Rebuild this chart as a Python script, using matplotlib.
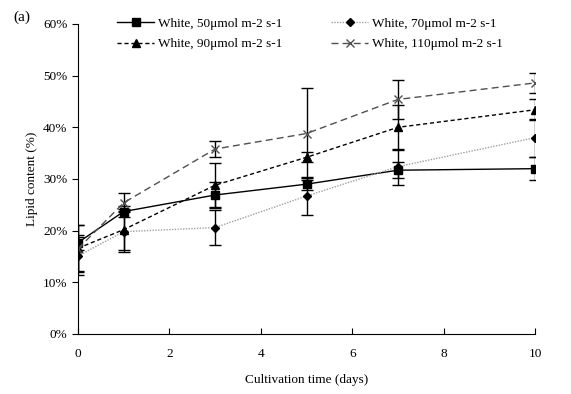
import matplotlib.pyplot as plt
from matplotlib.lines import Line2D
from matplotlib.ticker import FuncFormatter

plt.rcParams['font.family'] = ['Liberation Serif', 'DejaVu Serif']
plt.rcParams['font.size'] = 9.5

days = [0, 1, 3, 5, 7, 10]

lipid_50 = [17.7, 23.7, 26.9, 29.0, 31.7, 32.0]
err_50 = [1.5, 1.0, 2.6, 1.2, 1.6, 2.2]
lipid_70 = [15.1, 19.8, 20.6, 26.7, 32.4, 38.0]
err_70 = [3.7, 4.0, 3.4, 3.6, 3.5, 3.7]
lipid_90 = [16.6, 20.2, 28.8, 34.2, 40.0, 43.4]
err_90 = [4.4, 4.0, 4.2, 1.0, 4.4, 2.0]
lipid_110 = [16.5, 25.4, 35.8, 38.8, 45.4, 48.6]
err_110 = [4.5, 1.8, 1.6, 8.9, 3.8, 2.0]

labels = ['White, 50\u03bcmol m-2 s-1', 'White, 70\u03bcmol m-2 s-1',
          'White, 90\u03bcmol m-2 s-1', 'White, 110\u03bcmol m-2 s-1']

fig = plt.figure(figsize=(5.71, 3.94), dpi=100)
ax = fig.add_axes([0.1366, 0.1523, 0.8004, 0.7868])

styles = [
    dict(color='black', ls='-', marker='s', ms=6, mfc='black', mec='black'),
    dict(color='#a0a0a0', ls=(0, (1, 1)), marker='D', ms=4, mfc='black', mec='black'),
    dict(color='black', ls=(0, (3, 2)), marker='^', ms=6, mfc='black', mec='black'),
    dict(color='#505050', ls=(0, (5, 3)), marker='x', ms=6, mfc='#505050', mec='#505050'),
]
series = [(lipid_50, err_50), (lipid_70, err_70), (lipid_90, err_90), (lipid_110, err_110)]

handles = []
for (vals, errs), st, lab in zip(series, styles, labels):
    ax.errorbar(days, vals, yerr=errs, lw=1, ecolor='black', elinewidth=1,
                capsize=4, capthick=1, **st)
    handles.append(Line2D([], [], lw=1, label=lab, **st))

ax.set_xlim(0, 10)
ax.set_ylim(0, 60)
ax.set_xticks(range(0, 11, 2))
ax.set_yticks(range(0, 61, 10))
ax.yaxis.set_major_formatter(FuncFormatter(lambda v, p: f'{int(v)}%'))
ax.spines['top'].set_visible(False)
ax.spines['right'].set_visible(False)
ax.tick_params(axis='x', direction='in', length=4, pad=10)
ax.tick_params(axis='y', direction='out', length=4)

ax.set_xlabel('Cultivation time (days)', labelpad=10)
ax.set_ylabel('Lipid content (%)', labelpad=4)
fig.text(0.024, 0.955, '(a)', fontsize=11, va='center')

# legend fills by column, so order 50, 90, 70, 110 gives rows (50, 70) / (90, 110)
order = [0, 2, 1, 3]
ax.legend([handles[i] for i in order], [labels[i] for i in order],
          loc='upper left', bbox_to_anchor=(0.06, 1.06), ncol=2, frameon=False,
          columnspacing=3.7, handlelength=2.8, handletextpad=0.3, labelspacing=0.65)

fig.savefig('out.png', dpi=100)
